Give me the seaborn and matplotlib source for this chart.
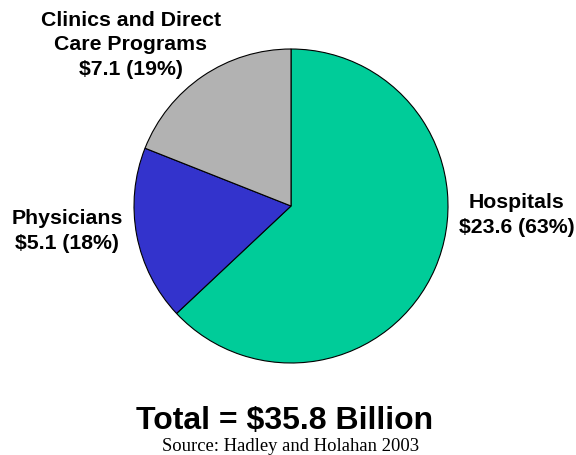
import matplotlib
matplotlib.use("Agg")
import matplotlib.pyplot as plt
import seaborn as sns

# Spending by provider type (billions of dollars)
categories = ["Hospitals", "Physicians", "Clinics and Direct\nCare Programs"]
amounts = [23.6, 5.1, 7.1]
shares = [63, 18, 19]
colors = ["#00CC99", "#3333CC", "#B2B2B2"]
total_label = "Total = $35.8 Billion"
source_label = "Source: Hadley and Holahan 2003"

sns.set_theme(style="white")
plt.rcParams["font.family"] = ["Liberation Sans", "DejaVu Sans"]

W, H = 576, 456
fig = plt.figure(figsize=(W / 100, H / 100), dpi=100)
fig.patch.set_facecolor("white")

cx, cy, r = 291, 207, 157
ax = fig.add_axes([(cx - r) / W, (H - cy - r) / H, 2 * r / W, 2 * r / H])
wedges, _ = ax.pie(
    shares,
    colors=sns.color_palette(colors),
    startangle=90,
    counterclock=False,
    wedgeprops=dict(edgecolor="black", linewidth=0.8),
)
for w in wedges:
    w.set_clip_on(False)
ax.set_xlim(-1, 1)
ax.set_ylim(-1, 1)
ax.set_aspect("equal")
ax.axis("off")


def px(x, y):
    return x / W, 1 - y / H


label_pos = [(517, 215), (67, 231), (131, 45)]
for name, amt, pct, (lx, ly) in zip(categories, amounts, shares, label_pos):
    fig.text(*px(lx, ly), f"{name}\n${amt:.1f} ({pct}%)",
             ha="center", va="center", fontsize=15.3, fontweight="bold",
             linespacing=1.38, color="black")

fig.text(*px(285, 421), total_label, ha="center", va="center",
         fontsize=23, fontweight="bold", color="black")
fig.text(*px(291, 447), source_label, ha="center", va="center",
         fontsize=13.4, family=["Liberation Serif", "DejaVu Serif"], color="black")

fig.savefig("out.png", dpi=100, facecolor="white")
